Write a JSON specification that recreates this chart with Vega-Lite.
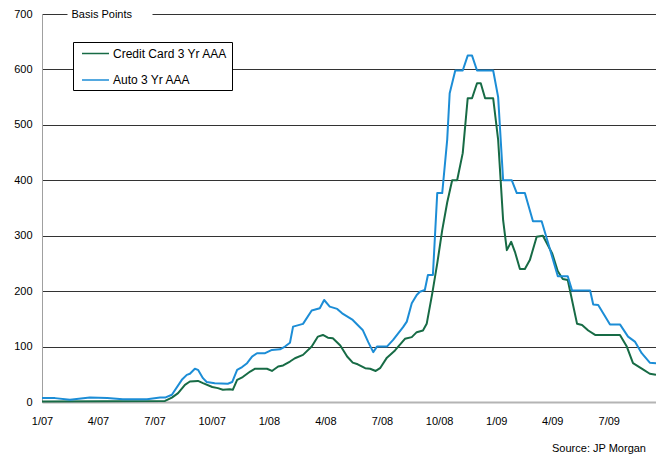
{
  "$schema": "https://vega.github.io/schema/vega-lite/v6.json",
  "width": 614,
  "height": 388,
  "autosize": {"type": "none"},
  "padding": {"left": 42, "top": 14, "right": 0, "bottom": 56},
  "background": "white",
  "config": {"view": {"stroke": null}, "font": "Liberation Sans"},
  "title": {"text": "Source: JP Morgan", "orient": "bottom", "anchor": "end", "fontSize": 11, "fontWeight": "normal", "color": "#000", "offset": 17, "dx": -11},
  "data": {"values": [
    {"d": "2007/01/01", "s": "Credit Card 3 Yr AAA", "v": 1},
    {"d": "2007/07/18", "s": "Credit Card 3 Yr AAA", "v": 2},
    {"d": "2007/07/29", "s": "Credit Card 3 Yr AAA", "v": 8},
    {"d": "2007/08/08", "s": "Credit Card 3 Yr AAA", "v": 16},
    {"d": "2007/08/19", "s": "Credit Card 3 Yr AAA", "v": 31},
    {"d": "2007/08/27", "s": "Credit Card 3 Yr AAA", "v": 37},
    {"d": "2007/09/09", "s": "Credit Card 3 Yr AAA", "v": 38},
    {"d": "2007/09/17", "s": "Credit Card 3 Yr AAA", "v": 34},
    {"d": "2007/10/02", "s": "Credit Card 3 Yr AAA", "v": 27},
    {"d": "2007/10/11", "s": "Credit Card 3 Yr AAA", "v": 25},
    {"d": "2007/10/19", "s": "Credit Card 3 Yr AAA", "v": 22},
    {"d": "2007/10/30", "s": "Credit Card 3 Yr AAA", "v": 23},
    {"d": "2007/11/04", "s": "Credit Card 3 Yr AAA", "v": 22},
    {"d": "2007/11/11", "s": "Credit Card 3 Yr AAA", "v": 40},
    {"d": "2007/11/20", "s": "Credit Card 3 Yr AAA", "v": 45},
    {"d": "2007/12/02", "s": "Credit Card 3 Yr AAA", "v": 55},
    {"d": "2007/12/10", "s": "Credit Card 3 Yr AAA", "v": 60},
    {"d": "2007/12/29", "s": "Credit Card 3 Yr AAA", "v": 60},
    {"d": "2008/01/06", "s": "Credit Card 3 Yr AAA", "v": 56},
    {"d": "2008/01/16", "s": "Credit Card 3 Yr AAA", "v": 64},
    {"d": "2008/01/24", "s": "Credit Card 3 Yr AAA", "v": 66},
    {"d": "2008/02/04", "s": "Credit Card 3 Yr AAA", "v": 73},
    {"d": "2008/02/12", "s": "Credit Card 3 Yr AAA", "v": 79},
    {"d": "2008/02/25", "s": "Credit Card 3 Yr AAA", "v": 85},
    {"d": "2008/03/10", "s": "Credit Card 3 Yr AAA", "v": 100},
    {"d": "2008/03/20", "s": "Credit Card 3 Yr AAA", "v": 118},
    {"d": "2008/03/28", "s": "Credit Card 3 Yr AAA", "v": 121},
    {"d": "2008/04/05", "s": "Credit Card 3 Yr AAA", "v": 116},
    {"d": "2008/04/13", "s": "Credit Card 3 Yr AAA", "v": 115},
    {"d": "2008/04/25", "s": "Credit Card 3 Yr AAA", "v": 102},
    {"d": "2008/05/06", "s": "Credit Card 3 Yr AAA", "v": 82},
    {"d": "2008/05/15", "s": "Credit Card 3 Yr AAA", "v": 71},
    {"d": "2008/05/23", "s": "Credit Card 3 Yr AAA", "v": 68},
    {"d": "2008/06/04", "s": "Credit Card 3 Yr AAA", "v": 61},
    {"d": "2008/06/12", "s": "Credit Card 3 Yr AAA", "v": 60},
    {"d": "2008/06/21", "s": "Credit Card 3 Yr AAA", "v": 56},
    {"d": "2008/06/28", "s": "Credit Card 3 Yr AAA", "v": 61},
    {"d": "2008/07/09", "s": "Credit Card 3 Yr AAA", "v": 80},
    {"d": "2008/07/14", "s": "Credit Card 3 Yr AAA", "v": 85},
    {"d": "2008/07/22", "s": "Credit Card 3 Yr AAA", "v": 93},
    {"d": "2008/08/07", "s": "Credit Card 3 Yr AAA", "v": 114},
    {"d": "2008/08/18", "s": "Credit Card 3 Yr AAA", "v": 117},
    {"d": "2008/08/26", "s": "Credit Card 3 Yr AAA", "v": 126},
    {"d": "2008/09/05", "s": "Credit Card 3 Yr AAA", "v": 129},
    {"d": "2008/09/11", "s": "Credit Card 3 Yr AAA", "v": 141},
    {"d": "2008/09/20", "s": "Credit Card 3 Yr AAA", "v": 196},
    {"d": "2008/09/28", "s": "Credit Card 3 Yr AAA", "v": 250},
    {"d": "2008/10/06", "s": "Credit Card 3 Yr AAA", "v": 310},
    {"d": "2008/10/14", "s": "Credit Card 3 Yr AAA", "v": 360},
    {"d": "2008/10/22", "s": "Credit Card 3 Yr AAA", "v": 400},
    {"d": "2008/10/30", "s": "Credit Card 3 Yr AAA", "v": 400},
    {"d": "2008/11/08", "s": "Credit Card 3 Yr AAA", "v": 449},
    {"d": "2008/11/16", "s": "Credit Card 3 Yr AAA", "v": 548},
    {"d": "2008/11/23", "s": "Credit Card 3 Yr AAA", "v": 548},
    {"d": "2008/12/01", "s": "Credit Card 3 Yr AAA", "v": 575},
    {"d": "2008/12/07", "s": "Credit Card 3 Yr AAA", "v": 575},
    {"d": "2008/12/14", "s": "Credit Card 3 Yr AAA", "v": 548},
    {"d": "2008/12/27", "s": "Credit Card 3 Yr AAA", "v": 548},
    {"d": "2009/01/04", "s": "Credit Card 3 Yr AAA", "v": 473},
    {"d": "2009/01/12", "s": "Credit Card 3 Yr AAA", "v": 328},
    {"d": "2009/01/18", "s": "Credit Card 3 Yr AAA", "v": 274},
    {"d": "2009/01/25", "s": "Credit Card 3 Yr AAA", "v": 289},
    {"d": "2009/01/31", "s": "Credit Card 3 Yr AAA", "v": 271},
    {"d": "2009/02/08", "s": "Credit Card 3 Yr AAA", "v": 240},
    {"d": "2009/02/16", "s": "Credit Card 3 Yr AAA", "v": 240},
    {"d": "2009/02/24", "s": "Credit Card 3 Yr AAA", "v": 256},
    {"d": "2009/03/07", "s": "Credit Card 3 Yr AAA", "v": 298},
    {"d": "2009/03/17", "s": "Credit Card 3 Yr AAA", "v": 300},
    {"d": "2009/04/01", "s": "Credit Card 3 Yr AAA", "v": 268},
    {"d": "2009/04/10", "s": "Credit Card 3 Yr AAA", "v": 236},
    {"d": "2009/04/18", "s": "Credit Card 3 Yr AAA", "v": 222},
    {"d": "2009/04/26", "s": "Credit Card 3 Yr AAA", "v": 220},
    {"d": "2009/05/11", "s": "Credit Card 3 Yr AAA", "v": 141},
    {"d": "2009/05/19", "s": "Credit Card 3 Yr AAA", "v": 139},
    {"d": "2009/05/29", "s": "Credit Card 3 Yr AAA", "v": 129},
    {"d": "2009/06/09", "s": "Credit Card 3 Yr AAA", "v": 121},
    {"d": "2009/07/19", "s": "Credit Card 3 Yr AAA", "v": 121},
    {"d": "2009/07/30", "s": "Credit Card 3 Yr AAA", "v": 100},
    {"d": "2009/08/09", "s": "Credit Card 3 Yr AAA", "v": 70},
    {"d": "2009/08/25", "s": "Credit Card 3 Yr AAA", "v": 59},
    {"d": "2009/09/05", "s": "Credit Card 3 Yr AAA", "v": 51},
    {"d": "2009/09/15", "s": "Credit Card 3 Yr AAA", "v": 49},
    {"d": "2007/01/01", "s": "Auto 3 Yr AAA", "v": 7},
    {"d": "2007/01/22", "s": "Auto 3 Yr AAA", "v": 7},
    {"d": "2007/02/15", "s": "Auto 3 Yr AAA", "v": 4},
    {"d": "2007/03/19", "s": "Auto 3 Yr AAA", "v": 8},
    {"d": "2007/04/16", "s": "Auto 3 Yr AAA", "v": 7},
    {"d": "2007/05/11", "s": "Auto 3 Yr AAA", "v": 5},
    {"d": "2007/06/19", "s": "Auto 3 Yr AAA", "v": 5},
    {"d": "2007/07/10", "s": "Auto 3 Yr AAA", "v": 8},
    {"d": "2007/07/18", "s": "Auto 3 Yr AAA", "v": 8},
    {"d": "2007/07/29", "s": "Auto 3 Yr AAA", "v": 13},
    {"d": "2007/08/14", "s": "Auto 3 Yr AAA", "v": 40},
    {"d": "2007/08/22", "s": "Auto 3 Yr AAA", "v": 49},
    {"d": "2007/08/27", "s": "Auto 3 Yr AAA", "v": 51},
    {"d": "2007/09/04", "s": "Auto 3 Yr AAA", "v": 60},
    {"d": "2007/09/09", "s": "Auto 3 Yr AAA", "v": 58},
    {"d": "2007/09/17", "s": "Auto 3 Yr AAA", "v": 43},
    {"d": "2007/09/23", "s": "Auto 3 Yr AAA", "v": 36},
    {"d": "2007/10/06", "s": "Auto 3 Yr AAA", "v": 34},
    {"d": "2007/10/27", "s": "Auto 3 Yr AAA", "v": 33},
    {"d": "2007/11/03", "s": "Auto 3 Yr AAA", "v": 36},
    {"d": "2007/11/11", "s": "Auto 3 Yr AAA", "v": 58},
    {"d": "2007/11/19", "s": "Auto 3 Yr AAA", "v": 63},
    {"d": "2007/11/27", "s": "Auto 3 Yr AAA", "v": 70},
    {"d": "2007/12/05", "s": "Auto 3 Yr AAA", "v": 82},
    {"d": "2007/12/13", "s": "Auto 3 Yr AAA", "v": 88},
    {"d": "2007/12/26", "s": "Auto 3 Yr AAA", "v": 88},
    {"d": "2008/01/06", "s": "Auto 3 Yr AAA", "v": 94},
    {"d": "2008/01/19", "s": "Auto 3 Yr AAA", "v": 95},
    {"d": "2008/01/27", "s": "Auto 3 Yr AAA", "v": 100},
    {"d": "2008/02/04", "s": "Auto 3 Yr AAA", "v": 107},
    {"d": "2008/02/09", "s": "Auto 3 Yr AAA", "v": 136},
    {"d": "2008/02/25", "s": "Auto 3 Yr AAA", "v": 141},
    {"d": "2008/03/10", "s": "Auto 3 Yr AAA", "v": 165},
    {"d": "2008/03/23", "s": "Auto 3 Yr AAA", "v": 169},
    {"d": "2008/03/30", "s": "Auto 3 Yr AAA", "v": 184},
    {"d": "2008/04/08", "s": "Auto 3 Yr AAA", "v": 172},
    {"d": "2008/04/20", "s": "Auto 3 Yr AAA", "v": 168},
    {"d": "2008/04/28", "s": "Auto 3 Yr AAA", "v": 160},
    {"d": "2008/05/15", "s": "Auto 3 Yr AAA", "v": 148},
    {"d": "2008/05/31", "s": "Auto 3 Yr AAA", "v": 130},
    {"d": "2008/06/09", "s": "Auto 3 Yr AAA", "v": 108},
    {"d": "2008/06/17", "s": "Auto 3 Yr AAA", "v": 90},
    {"d": "2008/06/23", "s": "Auto 3 Yr AAA", "v": 100},
    {"d": "2008/07/09", "s": "Auto 3 Yr AAA", "v": 100},
    {"d": "2008/07/19", "s": "Auto 3 Yr AAA", "v": 112},
    {"d": "2008/08/04", "s": "Auto 3 Yr AAA", "v": 135},
    {"d": "2008/08/10", "s": "Auto 3 Yr AAA", "v": 145},
    {"d": "2008/08/18", "s": "Auto 3 Yr AAA", "v": 178},
    {"d": "2008/08/26", "s": "Auto 3 Yr AAA", "v": 193},
    {"d": "2008/08/31", "s": "Auto 3 Yr AAA", "v": 199},
    {"d": "2008/09/08", "s": "Auto 3 Yr AAA", "v": 202},
    {"d": "2008/09/13", "s": "Auto 3 Yr AAA", "v": 229},
    {"d": "2008/09/21", "s": "Auto 3 Yr AAA", "v": 229},
    {"d": "2008/09/28", "s": "Auto 3 Yr AAA", "v": 377},
    {"d": "2008/10/06", "s": "Auto 3 Yr AAA", "v": 377},
    {"d": "2008/10/14", "s": "Auto 3 Yr AAA", "v": 473},
    {"d": "2008/10/18", "s": "Auto 3 Yr AAA", "v": 557},
    {"d": "2008/10/27", "s": "Auto 3 Yr AAA", "v": 598},
    {"d": "2008/11/08", "s": "Auto 3 Yr AAA", "v": 598},
    {"d": "2008/11/16", "s": "Auto 3 Yr AAA", "v": 625},
    {"d": "2008/11/23", "s": "Auto 3 Yr AAA", "v": 625},
    {"d": "2008/12/01", "s": "Auto 3 Yr AAA", "v": 598},
    {"d": "2008/12/27", "s": "Auto 3 Yr AAA", "v": 598},
    {"d": "2009/01/04", "s": "Auto 3 Yr AAA", "v": 550},
    {"d": "2009/01/12", "s": "Auto 3 Yr AAA", "v": 400},
    {"d": "2009/01/26", "s": "Auto 3 Yr AAA", "v": 400},
    {"d": "2009/02/03", "s": "Auto 3 Yr AAA", "v": 377},
    {"d": "2009/02/16", "s": "Auto 3 Yr AAA", "v": 377},
    {"d": "2009/03/01", "s": "Auto 3 Yr AAA", "v": 326},
    {"d": "2009/03/15", "s": "Auto 3 Yr AAA", "v": 326},
    {"d": "2009/03/28", "s": "Auto 3 Yr AAA", "v": 277},
    {"d": "2009/04/10", "s": "Auto 3 Yr AAA", "v": 227},
    {"d": "2009/04/26", "s": "Auto 3 Yr AAA", "v": 227},
    {"d": "2009/05/03", "s": "Auto 3 Yr AAA", "v": 201},
    {"d": "2009/06/01", "s": "Auto 3 Yr AAA", "v": 201},
    {"d": "2009/06/06", "s": "Auto 3 Yr AAA", "v": 176},
    {"d": "2009/06/14", "s": "Auto 3 Yr AAA", "v": 175},
    {"d": "2009/07/03", "s": "Auto 3 Yr AAA", "v": 140},
    {"d": "2009/07/19", "s": "Auto 3 Yr AAA", "v": 140},
    {"d": "2009/08/01", "s": "Auto 3 Yr AAA", "v": 118},
    {"d": "2009/08/12", "s": "Auto 3 Yr AAA", "v": 109},
    {"d": "2009/08/23", "s": "Auto 3 Yr AAA", "v": 88},
    {"d": "2009/09/05", "s": "Auto 3 Yr AAA", "v": 71},
    {"d": "2009/09/15", "s": "Auto 3 Yr AAA", "v": 70}
  ]},
  "mark": {"type": "line", "strokeWidth": 2, "strokeJoin": "round"},
  "encoding": {
    "x": {
      "field": "d", "type": "temporal",
      "scale": {"domain": [{"year": 2007, "month": 1, "date": 1}, {"year": 2009, "month": 9, "date": 15}]},
      "axis": {
        "title": null, "grid": false, "ticks": false, "format": "%-m/%y",
        "values": [
          {"year": 2007, "month": 1, "date": 1}, {"year": 2007, "month": 4, "date": 1},
          {"year": 2007, "month": 7, "date": 1}, {"year": 2007, "month": 10, "date": 1},
          {"year": 2008, "month": 1, "date": 1}, {"year": 2008, "month": 4, "date": 1},
          {"year": 2008, "month": 7, "date": 1}, {"year": 2008, "month": 10, "date": 1},
          {"year": 2009, "month": 1, "date": 1}, {"year": 2009, "month": 4, "date": 1},
          {"year": 2009, "month": 7, "date": 1}
        ],
        "labelPadding": 13, "labelFontSize": 11, "labelColor": "#000", "labelFlush": false, "labelOverlap": false,
        "domainColor": "#b4b4b4", "domainWidth": 2
      }
    },
    "y": {
      "field": "v", "type": "quantitative",
      "scale": {"domain": [0, 700], "nice": false},
      "axis": {
        "values": [0, 100, 200, 300, 400, 500, 600, 700],
        "title": "Basis Points", "titleAngle": 0, "titleAlign": "left", "titleBaseline": "middle",
        "titleX": 29, "titleY": 0, "titleFontSize": 11, "titleFontWeight": "normal", "titleColor": "#000",
        "ticks": false, "labelPadding": 10, "labelFontSize": 11, "labelColor": "#000",
        "domainColor": "#a0a0a0", "domainWidth": 1,
        "grid": true,
        "gridColor": {"condition": {"test": "datum.value === 0", "value": "transparent"}, "value": "#333333"},
        "gridDash": {"condition": {"test": "datum.value === 700", "value": [25, 85, 1000, 0]}, "value": []},
        "gridWidth": 1
      }
    },
    "color": {
      "field": "s", "type": "nominal",
      "scale": {"domain": ["Credit Card 3 Yr AAA", "Auto 3 Yr AAA"], "range": ["#176B45", "#1C8DD6"]},
      "legend": {
        "orient": "none", "legendX": 31, "legendY": 28, "title": null, "direction": "vertical",
        "fillColor": "#ffffff", "strokeColor": "#000000", "padding": 4,
        "symbolType": "M-2,0H2", "symbolSize": 182, "symbolStrokeWidth": 1.5, "symbolOffset": 11,
        "labelOffset": 10, "labelFontSize": 12, "labelColor": "#000", "rowPadding": 12.5, "labelLimit": 300
      }
    }
  }
}
